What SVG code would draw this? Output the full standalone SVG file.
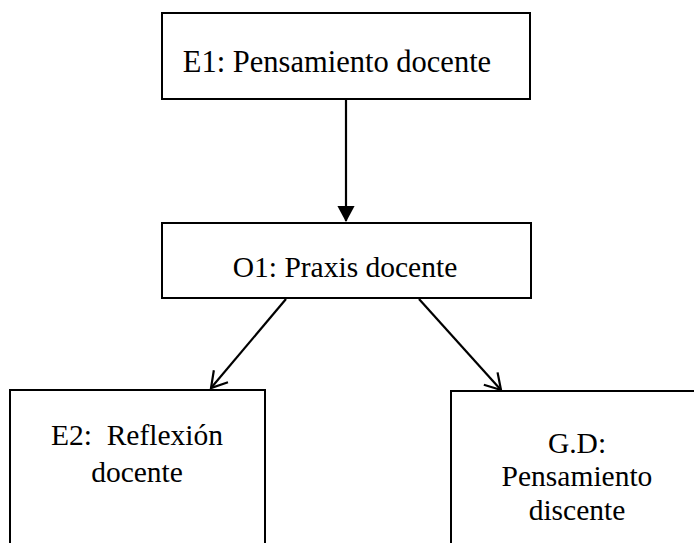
<svg xmlns="http://www.w3.org/2000/svg" width="694" height="543" viewBox="0 0 694 543">
<style>
.box{fill:#fff;stroke:#000;stroke-width:2}
.t{font-family:"Liberation Serif","Times New Roman",serif;font-size:29.5px;fill:#000;text-anchor:middle;white-space:pre}
.c{stroke:#000;stroke-width:2.2;fill:none}
</style>
<defs>
<marker id="fill" markerWidth="8" markerHeight="8" refX="7" refY="4" orient="auto" markerUnits="strokeWidth">
<path d="M0,0 L7.5,4 L0,8 Z" fill="#000"/>
</marker>
<marker id="open" markerWidth="10" markerHeight="10" refX="8" refY="5" orient="auto" markerUnits="strokeWidth">
<path d="M1,0.8 L8,5 L1,9.2" fill="none" stroke="#000" stroke-width="1"/>
</marker>
</defs>
<g id="n-e1"><rect class="box" x="162" y="13" width="368" height="86"/><text class="t" x="337" y="72" style="font-size:30.5px">E1: Pensamiento docente</text></g>
<g id="n-o1"><rect class="box" x="162" y="223" width="369" height="75"/><text class="t" x="345" y="277">O1: Praxis docente</text></g>
<g id="n-e2"><rect class="box" x="10" y="390" width="255" height="170"/><text class="t" x="137" y="445" xml:space="preserve">E2:  Reflexión</text><text class="t" x="137" y="482">docente</text></g>
<g id="n-gd"><rect class="box" x="451" y="391" width="260" height="170"/><text class="t" x="577" y="453">G.D:</text><text class="t" x="577" y="486">Pensamiento</text><text class="t" x="577" y="520">discente</text></g>
<g id="connectors">
<line class="c" x1="346" y1="98" x2="346" y2="221" marker-end="url(#fill)"/>
<line class="c" x1="286" y1="299" x2="211" y2="388" marker-end="url(#open)"/>
<line class="c" x1="419" y1="299" x2="501" y2="390" marker-end="url(#open)"/>
</g>
</svg>
